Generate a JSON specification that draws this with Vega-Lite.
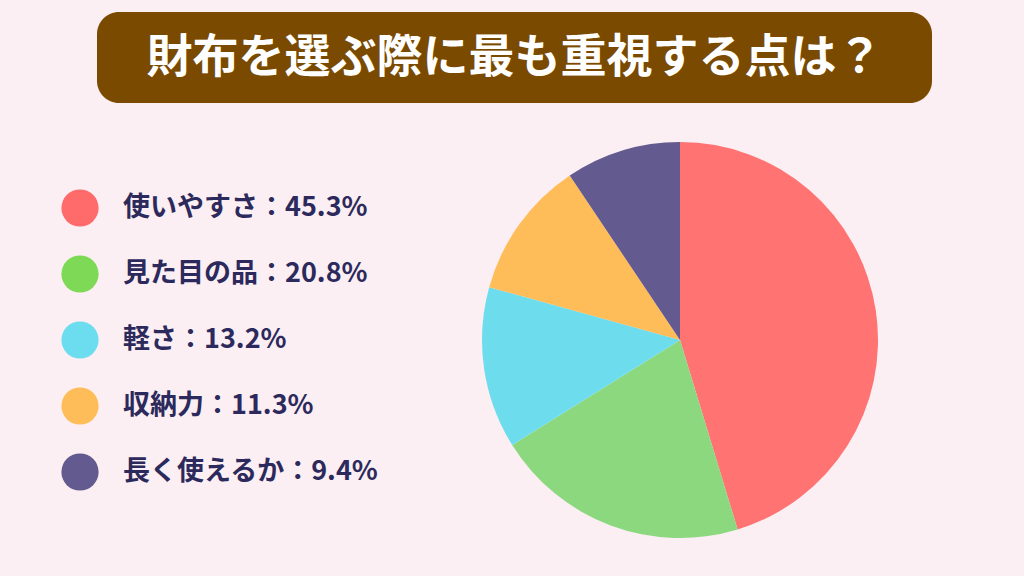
{
  "$schema": "https://vega.github.io/schema/vega-lite/v6.json",
  "background": "#FCEFF3",
  "padding": {"left": 59, "top": 12, "right": 54, "bottom": 38},
  "config": {"view": {"stroke": null}},
  "data": {"values": [
    {"category": "使いやすさ", "value": 45.3, "label": "使いやすさ：45.3%", "order": 1},
    {"category": "見た目の品", "value": 20.8, "label": "見た目の品：20.8%", "order": 2},
    {"category": "軽さ", "value": 13.2, "label": "軽さ：13.2%", "order": 3},
    {"category": "収納力", "value": 11.3, "label": "収納力：11.3%", "order": 4},
    {"category": "長く使えるか", "value": 9.4, "label": "長く使えるか：9.4%", "order": 5}
  ]},
  "spacing": 39,
  "center": true,
  "vconcat": [
    {
      "width": 835,
      "height": 91,
      "view": {"fill": "#7A4A00", "stroke": null, "cornerRadius": 22},
      "data": {"values": [{"title": "財布を選ぶ際に最も重視する点は？"}]},
      "mark": {"type": "text", "font": "Noto Sans CJK JP", "fontWeight": "bold", "fontSize": 46, "color": "#FFFFFF", "align": "center", "baseline": "middle"},
      "encoding": {"text": {"field": "title"}}
    },
    {
      "spacing": 289,
      "bounds": "flush",
      "resolve": {"scale": {"color": "independent"}},
      "hconcat": [
        {
          "width": 42,
          "height": 396,
          "layer": [
            {
              "mark": {"type": "point", "shape": "circle", "filled": true, "opacity": 1, "size": 1385},
              "encoding": {
                "y": {"field": "category", "type": "nominal", "sort": {"field": "order"}, "scale": {"type": "point", "padding": 1}, "axis": null},
                "color": {"field": "category", "type": "nominal", "sort": {"field": "order"},
                  "scale": {"domain": ["使いやすさ", "見た目の品", "軽さ", "収納力", "長く使えるか"], "range": ["#FF6B6B", "#7ED957", "#6CDDEF", "#FFBD59", "#635A8F"]},
                  "legend": null}
              }
            },
            {
              "mark": {"type": "text", "align": "left", "baseline": "middle", "dx": 43, "font": "Noto Sans CJK JP", "fontWeight": "bold", "fontSize": 27, "color": "#2C2A5C"},
              "encoding": {
                "y": {"field": "category", "type": "nominal", "sort": {"field": "order"}, "scale": {"type": "point", "padding": 1}, "axis": null},
                "text": {"field": "label"}
              }
            }
          ]
        },
        {
          "width": 580,
          "height": 396,
          "mark": {"type": "arc", "outerRadius": 198, "stroke": null},
          "encoding": {
            "theta": {"field": "value", "type": "quantitative", "stack": true},
            "order": {"field": "order", "type": "quantitative"},
            "color": {"field": "category", "type": "nominal",
              "scale": {"domain": ["使いやすさ", "見た目の品", "軽さ", "収納力", "長く使えるか"], "range": ["#FF7373", "#8CD87F", "#6DDDEE", "#FFBD59", "#635B8F"]},
              "legend": null}
          }
        }
      ]
    }
  ]
}
